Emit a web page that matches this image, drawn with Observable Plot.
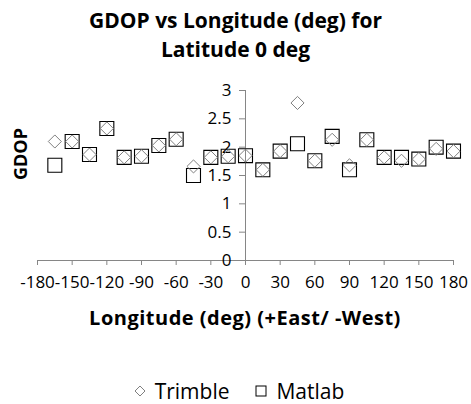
<!DOCTYPE html>
<html>
<head>
<meta charset="utf-8">
<script src="https://cdn.jsdelivr.net/npm/d3@7"></script>
<script src="https://cdn.jsdelivr.net/npm/@observablehq/plot@0.6"></script>
<style>
  html, body { margin: 0; padding: 0; background: #fff; }
  body { width: 471px; height: 404px; position: relative; overflow: hidden; font-family: "Open Sans", sans-serif; color: #000; }
  #title { position: absolute; left: 0; top: 0; width: 471px; text-align: center; font-weight: bold; font-size: 21px; line-height: 29px; padding-top: 6px; }
  #chart { position: absolute; left: 0; top: 65px; }
  #ytitle { position: absolute; left: 20px; top: 154px; transform: translate(-50%, -50%) rotate(-90deg); font-weight: bold; font-size: 18px; line-height: 20px; white-space: nowrap; }
  #xtitle { position: absolute; left: 0; top: 303px; width: 490px; text-align: center; font-weight: bold; font-size: 20px; letter-spacing: 0.5px; line-height: 30px; }
  #legend { position: absolute; left: 0; top: 379px; width: 478px; height: 24px; display: flex; justify-content: center; align-items: center; font-size: 21px; line-height: 24px; }
  #legend .item { display: inline-flex; align-items: center; }
  #legend .item + .item { margin-left: 26px; }
  #legend svg { margin-right: 9px; }
</style>
</head>
<body>
<div id="title">GDOP vs Longitude (deg) for<br>Latitude 0 deg</div>
<div id="chart"></div>
<div id="ytitle">GDOP</div>
<div id="xtitle">Longitude (deg) (+East/ -West)</div>
<div id="legend">
  <span class="item"><svg width="12" height="12" viewBox="-6 -6 12 12"><path d="M0,-5L5,0L0,5L-5,0Z" fill="none" stroke="#808080" stroke-width="1"/></svg>Trimble</span>
  <span class="item"><svg width="12" height="12" viewBox="-6 -6 12 12"><rect x="-5" y="-5" width="10" height="10" fill="none" stroke="#000" stroke-width="1"/></svg>Matlab</span>
</div>
<script>
const longitude = [-165, -150, -135, -120, -105, -90, -75, -60, -45, -30, -15, 0, 15, 30, 45, 60, 75, 90, 105, 120, 135, 150, 165, 180];
const trimble   = [2.10, 2.10, 1.87, 2.33, 1.82, 1.84, 2.03, 2.14, 1.66, 1.82, 1.84, 1.85, 1.60, 1.93, 2.78, 1.76, 2.13, 1.68, 2.13, 1.82, 1.76, 1.79, 1.97, 1.93];
const matlab    = [1.68, 2.10, 1.87, 2.33, 1.82, 1.84, 2.03, 2.14, 1.50, 1.82, 1.84, 1.85, 1.60, 1.93, 2.06, 1.76, 2.19, 1.60, 2.13, 1.82, 1.82, 1.79, 2.00, 1.93];
const xTicks = [-180, -150, -120, -90, -60, -30, 0, 30, 60, 90, 120, 150, 180];
const yTicks = [0, 0.5, 1, 1.5, 2, 2.5, 3];
const seriesNames = ["Trimble", "Matlab"];

const trimbleData = longitude.map((lon, i) => ({lon, gdop: trimble[i], series: seriesNames[0]}));
const matlabData = longitude.map((lon, i) => ({lon, gdop: matlab[i], series: seriesNames[1]}));

const W = 471, H = 235, mL = 37, mR = 18, mT = 25, mB = 40;
const xDomain = [-180, 180];
const yAxisShift = d3.scaleLinear(xDomain, [mL, W - mR])(0) - mL;
const axisGray = "#868686";

const chart = Plot.plot({
  width: W, height: H,
  marginLeft: mL, marginRight: mR, marginTop: mT, marginBottom: mB,
  style: {fontFamily: "Open Sans, sans-serif", fontSize: "17px", color: "#000", background: "#fff", overflow: "visible"},
  x: {domain: xDomain, label: null},
  y: {domain: [0, 3], label: null},
  marks: [
    Plot.ruleY([0], {stroke: axisGray}),
    Plot.ruleX([0], {stroke: axisGray}),
    Plot.axisX(xTicks, {anchor: "bottom", tickSize: 5, tickPadding: 10, stroke: axisGray, fill: "#000", label: null, tickFormat: d => String(d)}),
    Plot.axisY(yTicks, {anchor: "left", dx: yAxisShift, tickSize: 6, tickPadding: 8, stroke: axisGray, fill: "#000", label: null, tickFormat: d => String(d)}),
    Plot.dot(matlabData, {x: "lon", y: "gdop", symbol: "square2", r: 8.9, stroke: "#000", strokeWidth: 1.1, fill: "none"}),
    Plot.dot(trimbleData, {x: "lon", y: "gdop", symbol: "diamond2", r: 5.9, stroke: "#808080", strokeWidth: 1, fill: "none"})
  ]
});
document.getElementById("chart").appendChild(chart);
</script>
</body>
</html>
